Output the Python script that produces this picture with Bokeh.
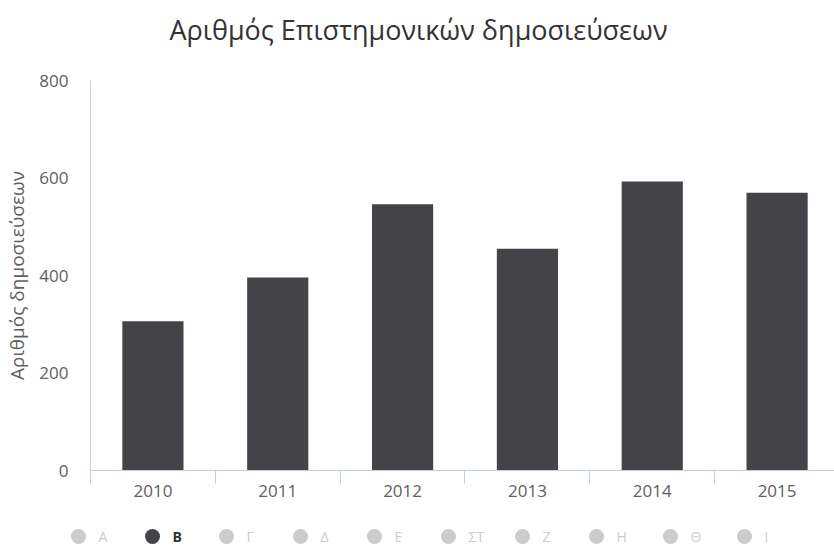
from bokeh.plotting import figure
from bokeh.models import ColumnDataSource, Range1d, FixedTicker
from bokeh.layouts import column
from bokeh.core.properties import value, field
from bokeh.embed import file_html
from bokeh.resources import INLINE

# ---- data ----
title_text = "Αριθμός Επιστημονικών δημοσιεύσεων"
y_title = "Αριθμός δημοσιεύσεων"
years = ["2010", "2011", "2012", "2013", "2014", "2015"]
publications = [306, 396, 546, 455, 593, 570]
y_ticks = [0, 200, 400, 600, 800]
legend_names = ["Α", "Β", "Γ", "Δ", "Ε", "ΣΤ", "Ζ", "Η", "Θ", "Ι"]
active_series = "Β"

# ---- style ----
FONT = "Open Sans"
BAR_COLOR = "#434348"
AXIS_COLOR = "#C0D0E0"
LABEL_COLOR = "#606060"
INACTIVE = "#CCCCCC"
W = 834


def strip(height):
    f = figure(width=W, height=height, output_backend="svg", toolbar_location=None,
               x_range=Range1d(0, W), y_range=Range1d(0, height), title=None,
               min_border=0, min_border_left=0, min_border_right=0,
               min_border_top=0, min_border_bottom=0)
    f.frame_align = False
    f.axis.visible = False
    f.grid.visible = False
    f.outline_line_color = None
    return f


# ---- title strip ----
TH = 58
tf = strip(TH)
tf.text(x=[W / 2 + 1], y=[TH - 29], text=[title_text], text_font=value(FONT),
        text_font_size="27px", text_color="#333333", text_align="center",
        text_baseline="middle")

# ---- main chart ----
idx = list(range(len(years)))
src = ColumnDataSource(dict(x=idx, top=publications))

p = figure(width=W, height=460, output_backend="svg", toolbar_location=None,
           title=None,
           x_range=Range1d(-0.5, 5.46), y_range=Range1d(0, 800),
           min_border_left=90, min_border_right=0, min_border_top=22,
           min_border_bottom=48)
p.frame_align = False
p.outline_line_color = None
p.background_fill_color = "white"
p.border_fill_color = "white"

p.vbar(x="x", top="top", width=0.49, source=src, fill_color=BAR_COLOR, line_color=None)

p.xgrid.visible = False
p.ygrid.visible = False

xa = p.xaxis[0]
xa.ticker = FixedTicker(ticks=idx, minor_ticks=[i - 0.5 for i in range(len(years) + 1)])
xa.major_label_overrides = {i: y for i, y in zip(idx, years)}
xa.axis_line_color = AXIS_COLOR
xa.major_tick_line_color = None
xa.major_tick_out = 0
xa.major_tick_in = 0
xa.minor_tick_line_color = AXIS_COLOR
xa.minor_tick_out = 13
xa.minor_tick_in = 0
xa.major_label_standoff = 1
xa.major_label_text_font = FONT
xa.major_label_text_font_size = "17px"
xa.major_label_text_color = LABEL_COLOR

ya = p.yaxis[0]
ya.ticker = FixedTicker(ticks=y_ticks)
ya.axis_line_color = AXIS_COLOR
ya.major_tick_line_color = None
ya.minor_tick_line_color = None
ya.major_tick_out = 0
ya.major_tick_in = 0
ya.major_label_standoff = 22
ya.major_label_text_font = FONT
ya.major_label_text_font_size = "17px"
ya.major_label_text_color = LABEL_COLOR
ya.axis_label = y_title
ya.axis_label_text_font = FONT
ya.axis_label_text_font_size = "19px"
ya.axis_label_text_font_style = "normal"
ya.axis_label_text_color = LABEL_COLOR
ya.axis_label_standoff = 6

# ---- legend strip ----
LH = 30
first_x, step = 78, 74
lx = [first_x + step * i for i in range(len(legend_names))]
colors = [BAR_COLOR if n == active_series else INACTIVE for n in legend_names]
tcolors = ["#333333" if n == active_series else INACTIVE for n in legend_names]
styles = ["bold" if n == active_series else "normal" for n in legend_names]
lsrc = ColumnDataSource(dict(x=lx, tx=[v + 20 for v in lx], y=[12] * len(lx),
                             name=legend_names, c=colors, tc=tcolors, st=styles))

lg = strip(LH)
lg.scatter(x="x", y="y", source=lsrc, size=15, fill_color="c", line_color=None)
lg.text(x="tx", y="y", text="name", source=lsrc, text_font=value(FONT),
        text_font_size="14px", text_color="tc", text_font_style=field("st"),
        text_baseline="middle", text_align="left")

layout = column(tf, p, lg, spacing=0)
open("out.html", "w").write(file_html(layout, INLINE))
